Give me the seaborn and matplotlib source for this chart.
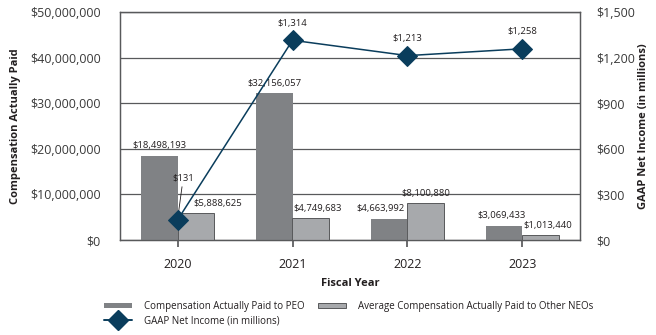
import matplotlib
matplotlib.use("Agg")
import matplotlib.pyplot as plt
import matplotlib.ticker as mticker
from matplotlib.patches import Patch
from matplotlib.lines import Line2D
import seaborn as sns
import pandas as pd

years = ["2020", "2021", "2022", "2023"]
peo_cap = [18498193, 32156057, 4663992, 3069433]
neo_cap = [5888625, 4749683, 8100880, 1013440]
net_income = [131, 1314, 1213, 1258]

peo_name = "Compensation Actually Paid to PEO"
neo_name = "Average Compensation Actually Paid to Other NEOs"
ni_name = "GAAP Net Income (in millions)"

sns.set_theme(style="white")
plt.rcParams["font.family"] = ["Open Sans", "DejaVu Sans"]

df = pd.DataFrame({
    "Year": years * 2,
    "Value": peo_cap + neo_cap,
    "Series": [peo_name] * 4 + [neo_name] * 4,
})

c_peo = "#808285"
c_neo = "#a7a9ac"
c_line = "#0a3d5c"
c_grid = "#58595b"
c_text = "#231f20"

fig = plt.figure(figsize=(6.56, 3.35), dpi=100)
ax = fig.add_axes([120 / 656, 1 - 240 / 335, 460 / 656, 228 / 335])

sns.barplot(data=df, x="Year", y="Value", hue="Series", ax=ax,
            palette=[c_peo, c_neo], width=0.64, legend=False,
            saturation=1, zorder=3)
for i, p in enumerate(ax.patches):
    if i >= 4:
        p.set_edgecolor("#58595b")
        p.set_linewidth(0.7)
    else:
        p.set_linewidth(0)

ax.set_ylim(0, 50_000_000)
ax.set_xlim(-0.5, 3.5)
ax.yaxis.set_major_locator(mticker.MultipleLocator(10_000_000))
ax.yaxis.set_major_formatter(mticker.FuncFormatter(lambda v, _: f"${v:,.0f}"))
ax.grid(axis="y", color=c_grid, linewidth=0.9, zorder=0)
ax.set_axisbelow(True)
for s in ax.spines.values():
    s.set_color(c_grid)
    s.set_linewidth(0.9)
ax.tick_params(axis="y", length=0, labelsize=9, labelcolor="#3a3a3a", pad=14)
ax.tick_params(axis="x", length=5, direction="out", color=c_grid, labelsize=9,
               labelcolor=c_text, pad=8, bottom=True)
ax.set_xlabel("Fiscal Year", fontsize=8, fontweight="bold", color=c_text, labelpad=5)
ax.set_ylabel("Compensation Actually Paid", fontsize=8, fontweight="bold", color=c_text, labelpad=6)

# bar labels (small horizontal nudges keep labels clear of the line)
label_dx = [0, 0, -6, -2, 16, 5, 0, 5]
for p, v, dx in zip(ax.patches, peo_cap + neo_cap, label_dx):
    ax.annotate(f"${v:,.0f}", (p.get_x() + p.get_width() / 2, p.get_height()),
                xytext=(dx, 4), textcoords="offset points", ha="center", va="bottom",
                fontsize=6.8, color=c_text)

ax2 = ax.twinx()
sns.lineplot(x=list(range(len(years))), y=net_income, ax=ax2, color=c_line,
             linewidth=1.1, marker="D", markersize=10, markeredgecolor=c_line,
             zorder=5)
ax2.set_ylim(0, 1500)
ax2.yaxis.set_major_locator(mticker.MultipleLocator(300))
ax2.yaxis.set_major_formatter(mticker.FuncFormatter(lambda v, _: f"${v:,.0f}"))
ax2.tick_params(axis="y", length=0, labelsize=9, labelcolor="#3a3a3a", pad=12)
ax2.set_ylabel(ni_name, fontsize=8, fontweight="bold", color=c_text, labelpad=2)
ax2.grid(False)
for s in ax2.spines.values():
    s.set_color(c_grid)
    s.set_linewidth(0.9)

for i, v in enumerate(net_income):
    if i == 0:
        ax2.annotate(f"${v:,.0f}", (i, v), xytext=(i + 0.05, 381), ha="center",
                     va="bottom", fontsize=6.8, color=c_text,
                     arrowprops=dict(arrowstyle="-", color=c_text, lw=0.6, shrinkA=1, shrinkB=0))
    else:
        ax2.annotate(f"${v:,.0f}", (i, v), xytext=(0, 9), textcoords="offset points",
                     ha="center", va="bottom", fontsize=6.8, color=c_text)

handles = [
    Patch(facecolor=c_peo, edgecolor="none", label=peo_name),
    Line2D([0], [0], color=c_line, lw=1.4, marker="D", markersize=10, label=ni_name),
    Patch(facecolor=c_neo, edgecolor="#58595b", linewidth=0.7, label=neo_name),
]
fig.legend(handles=handles, loc="upper left", bbox_to_anchor=(95 / 656, 1 - 292 / 335),
           ncol=2, frameon=False, fontsize=7, handlelength=2.9, handleheight=0.45,
           handletextpad=1.2, columnspacing=1.4, labelspacing=0.35, labelcolor=c_text)

fig.savefig("out.png", dpi=100)
